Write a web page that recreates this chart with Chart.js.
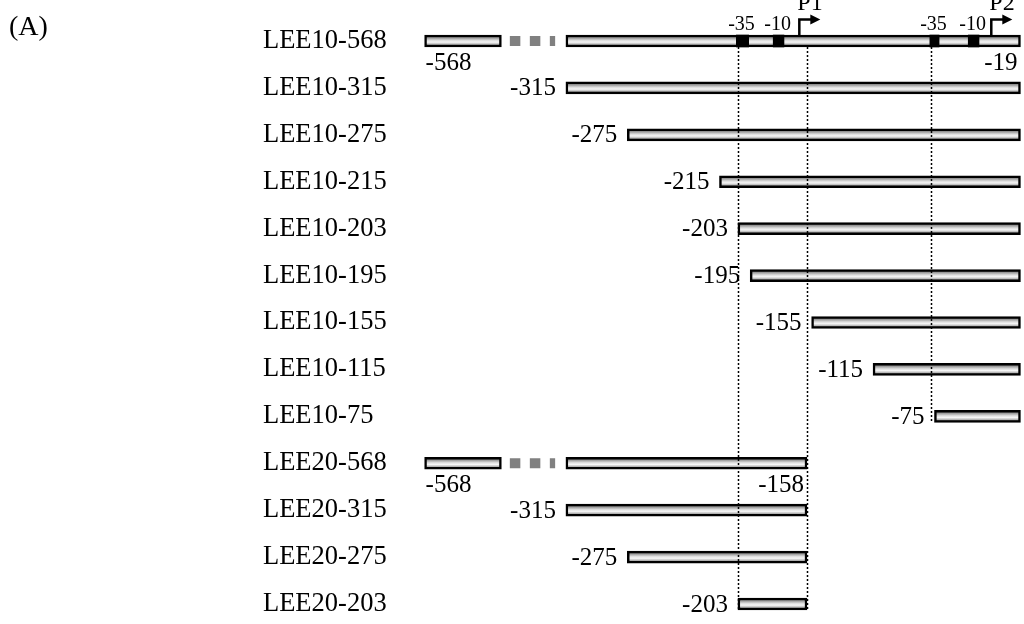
<!DOCTYPE html>
<html>
<head>
  <meta charset="utf-8">
  <title>Deletion constructs</title>
  <script src="https://cdn.jsdelivr.net/npm/chart.js"></script>
  <style>
    html, body { margin: 0; padding: 0; background: #fff; }
    #wrap { position: relative; width: 1024px; height: 624px; }
    #panel { position: absolute; left: 9px; top: 12px; font: 28px/28px "Liberation Serif", serif; color: #000; }
  </style>
</head>
<body>
  <div id="wrap">
    <canvas id="constructs" width="1024" height="624"></canvas>
    <div id="panel">(A)</div>
  </div>
  <script>
  // constructs, top to bottom
  const constructs = ['LEE10-568', 'LEE10-315', 'LEE10-275', 'LEE10-215', 'LEE10-203',
    'LEE10-195', 'LEE10-155', 'LEE10-115', 'LEE10-75',
    'LEE20-568', 'LEE20-315', 'LEE20-275', 'LEE20-203'];
  const startBp = [-568, -315, -275, -215, -203, -195, -155, -115, -75, -568, -315, -275, -203];
  const endBp = [-19, -19, -19, -19, -19, -19, -19, -19, -19, -158, -158, -158, -158];
  const endLabelRows = [0, 9];

  // promoter elements on the top construct
  const boxLabels = ['-35', '-10', '-35', '-10'];
  const boxFrom = [-204, -180, -78, -53];
  const boxTo = [-196, -173, -72, -46];
  const tssNames = ['P1', 'P2'];
  const tssBp = [-163, -38];

  // dotted guides and the row where each one stops
  const guideBp = [-203, -158, -77];
  const guideLastRow = [12, 12, 8];

  // the axis is broken left of -315: the -568 stub sits in the cut-off part
  const breakBp = -315;
  const stubFrom = -407, stubTo = -357;
  const dashFrom = -351.5, dashTo = -322;

  const serif = '"Liberation Serif", "Times New Roman", serif';
  const half = 6;

  function barFill(context) {
    const chart = context.chart;
    if (!chart.chartArea || context.type !== 'data') return '#cccccc';
    const yc = chart.scales.y.getPixelForValue(context.dataIndex);
    const g = chart.ctx.createLinearGradient(0, yc - half, 0, yc + half);
    g.addColorStop(0, '#505050');
    g.addColorStop(0.25, '#9c9c9c');
    g.addColorStop(0.45, '#dedede');
    g.addColorStop(0.6, '#f6f6f6');
    g.addColorStop(0.8, '#aaaaaa');
    g.addColorStop(1, '#505050');
    return g;
  }

  const annotations = {
    id: 'annotations',
    afterDatasetsDraw(chart) {
      const { ctx, scales: { x, y } } = chart;
      const y0 = y.getPixelForValue(0);
      ctx.save();
      ctx.fillStyle = '#000';
      ctx.strokeStyle = '#000';

      // dotted guides
      ctx.lineWidth = 1.5;
      ctx.setLineDash([2, 2]);
      guideBp.forEach((g, k) => {
        const px = Math.round(x.getPixelForValue(g)) + 0.5;
        ctx.beginPath();
        ctx.moveTo(px, y0 + half);
        ctx.lineTo(px, y.getPixelForValue(guideLastRow[k]) + half);
        ctx.stroke();
      });

      // gap in the long constructs
      ctx.strokeStyle = '#808080';
      ctx.lineWidth = 10;
      ctx.setLineDash([10.5, 9.5]);
      constructs.forEach((c, i) => {
        if (startBp[i] >= breakBp) return;
        const yc = y.getPixelForValue(i);
        ctx.beginPath();
        ctx.moveTo(x.getPixelForValue(dashFrom), yc);
        ctx.lineTo(x.getPixelForValue(dashTo), yc);
        ctx.stroke();
      });
      ctx.setLineDash([]);

      // start and end coordinates
      ctx.font = '25px ' + serif;
      ctx.textBaseline = 'middle';
      constructs.forEach((c, i) => {
        const yc = y.getPixelForValue(i);
        if (startBp[i] < breakBp) {
          ctx.textAlign = 'left';
          ctx.fillText(String(startBp[i]), x.getPixelForValue(stubFrom) + 1, yc + 22);
        } else {
          ctx.textAlign = 'right';
          ctx.fillText(String(startBp[i]), x.getPixelForValue(startBp[i]) - 10, yc + 1);
        }
      });
      ctx.textAlign = 'right';
      endLabelRows.forEach(i => {
        ctx.fillText(String(endBp[i]), x.getPixelForValue(endBp[i]) - 3, y.getPixelForValue(i) + 22);
      });

      // -35 / -10 labels
      ctx.font = '20px ' + serif;
      ctx.textAlign = 'center';
      ctx.textBaseline = 'alphabetic';
      boxLabels.forEach((t, k) => {
        ctx.fillText(t, x.getPixelForValue((boxFrom[k] + boxTo[k]) / 2) - 1, y0 - 11);
      });

      // transcription start arrows
      ctx.strokeStyle = '#000';
      ctx.lineWidth = 2.5;
      ctx.font = '24px ' + serif;
      ctx.textAlign = 'left';
      tssBp.forEach((b, k) => {
        const px = x.getPixelForValue(b);
        const top = y0 - 21.5;
        ctx.beginPath();
        ctx.moveTo(px, y0 - half);
        ctx.lineTo(px, top);
        ctx.lineTo(px + 12, top);
        ctx.stroke();
        ctx.beginPath();
        ctx.moveTo(px + 11, top - 5);
        ctx.lineTo(px + 21, top);
        ctx.lineTo(px + 11, top + 5);
        ctx.closePath();
        ctx.fill();
        ctx.fillText(tssNames[k], px - 2, y0 - 31);
      });
      ctx.restore();
    }
  };

  const barStyle = {
    grouped: false,
    clip: false,
    barThickness: 12,
    borderWidth: 2.5,
    borderColor: '#000',
    borderSkipped: false,
    backgroundColor: barFill
  };

  new Chart(document.getElementById('constructs'), {
    type: 'bar',
    data: {
      labels: constructs,
      datasets: [
        {
          label: 'promoter boxes',
          data: boxFrom.map((f, k) => ({ x: [f, boxTo[k]], y: constructs[0] })),
          grouped: false,
          clip: false,
          barThickness: 12,
          borderWidth: 0,
          backgroundColor: '#000'
        },
        Object.assign({
          label: 'stub',
          data: startBp.map(s => s < breakBp ? [stubFrom, stubTo] : null)
        }, barStyle),
        Object.assign({
          label: 'insert',
          data: startBp.map((s, i) => [Math.max(s, breakBp), endBp[i]])
        }, barStyle)
      ]
    },
    options: {
      indexAxis: 'y',
      responsive: false,
      animation: false,
      layout: { padding: { left: 263, right: 2, top: 41, bottom: 20 } },
      plugins: {
        legend: { display: false },
        tooltip: { enabled: false }
      },
      scales: {
        x: { type: 'linear', min: -410, max: -18, display: false },
        y: {
          type: 'category',
          labels: constructs,
          offset: false,
          grid: { display: false },
          border: { display: false },
          ticks: { color: '#000', crossAlign: 'far', padding: 0, font: { family: serif, size: 26.5 } },
          afterFit(scale) { scale.width = 157; }
        }
      }
    },
    plugins: [annotations]
  });
  </script>
</body>
</html>
